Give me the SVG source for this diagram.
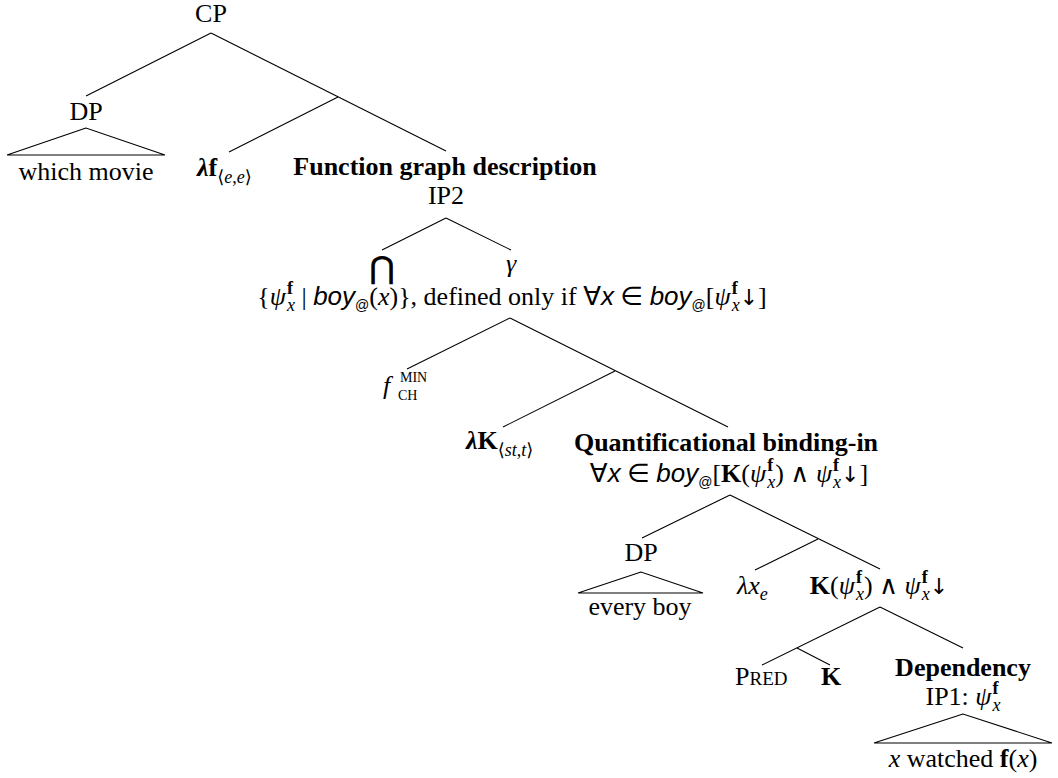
<svg xmlns="http://www.w3.org/2000/svg" width="1058" height="778" viewBox="0 0 1058 778">
<style>
text{font-family:"Liberation Serif","Times New Roman","DejaVu Serif",serif;font-size:26px;fill:#000}
.b{font-weight:bold}
.i{font-style:italic}
.s{font-size:18px}
.ss{font-size:14px}
.sc{font-size:19px}
.sf{font-family:"Liberation Sans",Arial,"DejaVu Sans",sans-serif}
.sym{font-family:"DejaVu Sans",sans-serif}
.arr{font-family:"DejaVu Sans",sans-serif;font-size:22px}
.big{font-family:"DejaVu Sans",sans-serif;font-size:30px;stroke:#000;stroke-width:0.9}
.edge{stroke:#000;stroke-width:1.1;fill:none}
</style>
<rect width="1058" height="778" fill="#fff"/>
<g id="connectors" class="edge">
<line x1="211" y1="33" x2="86" y2="96"/>
<line x1="211" y1="33" x2="446" y2="151"/>
<line x1="338" y1="97" x2="229" y2="152"/>
<line x1="446" y1="218" x2="382" y2="250"/>
<line x1="446" y1="218" x2="511" y2="250"/>
<line x1="510" y1="318" x2="407" y2="369"/>
<line x1="510" y1="318" x2="728" y2="427"/>
<line x1="615" y1="371" x2="503" y2="427"/>
<line x1="730" y1="495" x2="642" y2="538"/>
<line x1="730" y1="495" x2="880" y2="569"/>
<line x1="818" y1="539" x2="755" y2="570"/>
<line x1="880" y1="607" x2="762" y2="665"/>
<line x1="797" y1="648" x2="830" y2="665"/>
<line x1="880" y1="607" x2="963" y2="648"/>
</g>
<g id="n-cp"><text x="211" y="22" text-anchor="middle">CP</text></g>
<g id="n-dp1">
<text x="86" y="120" text-anchor="middle">DP</text>
<polygon class="edge" points="86,128 7,155 165,155"/>
<text x="86" y="180" text-anchor="middle">which movie</text>
</g>
<g id="n-lambda-f"><text x="197" y="176"><tspan class="b i">λ</tspan><tspan class="b">f</tspan><tspan class="s" dy="7"><tspan class="sym">⟨</tspan><tspan class="i">e</tspan>,<tspan class="i">e</tspan><tspan class="sym">⟩</tspan></tspan></text></g>
<g id="n-ip2">
<text x="445" y="175" text-anchor="middle" class="b">Function graph description</text>
<text x="446" y="204" text-anchor="middle">IP2</text>
</g>
<g id="n-bigcap"><text x="382" y="278" text-anchor="middle" class="big">⋂</text></g>
<g id="n-gamma"><text x="511" y="272" text-anchor="middle" class="i">γ</text></g>
<g id="n-set"><text x="512" y="305" text-anchor="middle">{<tspan class="i">ψ</tspan><tspan class="s b" dy="-11" dx="1">f</tspan><tspan class="s i" dx="-6" dy="17">x</tspan><tspan dy="-6"> | </tspan><tspan class="sf i">boy</tspan><tspan class="sf ss" dy="5">@</tspan><tspan dy="-5">(</tspan><tspan class="i">x</tspan>)}, defined only if <tspan class="sym">∀</tspan><tspan class="sf i">x</tspan> <tspan class="sym">∈</tspan> <tspan class="sf i">boy</tspan><tspan class="sf ss" dy="5">@</tspan><tspan dy="-5">[</tspan><tspan class="i">ψ</tspan><tspan class="s b" dy="-11" dx="1">f</tspan><tspan class="s i" dx="-6" dy="17">x</tspan><tspan class="arr" dy="-6">↓</tspan>]</text></g>
<g id="n-fch">
<text x="383" y="394" class="i">f</text>
<text x="400" y="382" class="ss">MIN</text>
<text x="398" y="400" class="ss">CH</text>
</g>
<g id="n-lambda-k"><text x="466" y="449"><tspan class="b i">λ</tspan><tspan class="b">K</tspan><tspan class="s" dy="7"><tspan class="sym">⟨</tspan><tspan class="i">st</tspan>,<tspan class="i">t</tspan><tspan class="sym">⟩</tspan></tspan></text></g>
<g id="n-qbi">
<text x="726" y="451" text-anchor="middle" class="b">Quantificational binding-in</text>
<text x="729" y="482" text-anchor="middle"><tspan class="sym">∀</tspan><tspan class="sf i">x</tspan> <tspan class="sym">∈</tspan> <tspan class="sf i">boy</tspan><tspan class="sf ss" dy="5">@</tspan><tspan dy="-5">[</tspan><tspan class="b">K</tspan>(<tspan class="i">ψ</tspan><tspan class="s b" dy="-11" dx="1">f</tspan><tspan class="s i" dx="-6" dy="17">x</tspan><tspan dy="-6">) </tspan><tspan class="sym">∧</tspan> <tspan class="i">ψ</tspan><tspan class="s b" dy="-11" dx="1">f</tspan><tspan class="s i" dx="-6" dy="17">x</tspan><tspan class="arr" dy="-6">↓</tspan>]</text>
</g>
<g id="n-dp2">
<text x="641" y="561" text-anchor="middle">DP</text>
<polygon class="edge" points="641,572 578,593 703,593"/>
<text x="640" y="615" text-anchor="middle">every boy</text>
</g>
<g id="n-lambda-x"><text x="737" y="594"><tspan class="i">λx</tspan><tspan class="s i" dy="6">e</tspan></text></g>
<g id="n-kpsi"><text x="879" y="594" text-anchor="middle"><tspan class="b">K</tspan>(<tspan class="i">ψ</tspan><tspan class="s b" dy="-11" dx="1">f</tspan><tspan class="s i" dx="-6" dy="17">x</tspan><tspan dy="-6">) </tspan><tspan class="sym">∧</tspan> <tspan class="i">ψ</tspan><tspan class="s b" dy="-11" dx="1">f</tspan><tspan class="s i" dx="-6" dy="17">x</tspan><tspan class="arr" dy="-6">↓</tspan></text></g>
<g id="n-pred"><text x="735" y="685">P<tspan class="sc">RED</tspan></text></g>
<g id="n-k"><text x="831" y="685" text-anchor="middle" class="b">K</text></g>
<g id="n-ip1">
<text x="963" y="676" text-anchor="middle" class="b">Dependency</text>
<text x="963" y="705" text-anchor="middle">IP1: <tspan class="i">ψ</tspan><tspan class="s b" dy="-11" dx="1">f</tspan><tspan class="s i" dx="-6" dy="17">x</tspan></text>
<polygon class="edge" points="963,714 874,743 1052,743"/>
<text x="963" y="767" text-anchor="middle"><tspan class="i">x</tspan> watched <tspan class="b">f</tspan>(<tspan class="i">x</tspan>)</text>
</g>
</svg>
